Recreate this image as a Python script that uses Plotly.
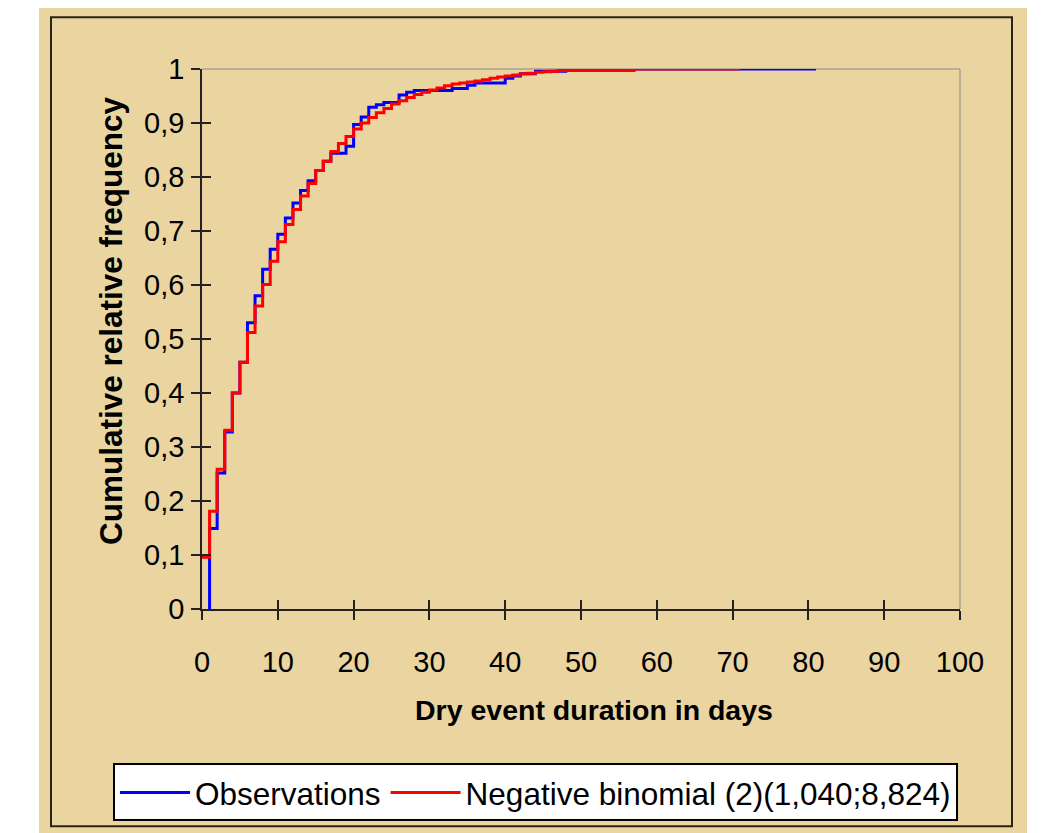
import plotly.graph_objects as go

# Observations: empirical cumulative relative frequency (change points, step "hv")
obs_days = [1, 1, 2, 3, 4, 5, 6, 7, 8, 9, 10, 11, 12, 13, 14, 15, 16, 17, 19, 20,
            21, 22, 23, 24, 26, 27, 28, 33, 35, 36, 40, 41, 42, 44, 48, 81]
obs_cdf = [0.0, 0.149, 0.252, 0.328, 0.400, 0.457, 0.530, 0.580, 0.629, 0.666,
           0.694, 0.724, 0.752, 0.775, 0.793, 0.812, 0.829, 0.844, 0.857, 0.897,
           0.911, 0.929, 0.934, 0.938, 0.952, 0.957, 0.960, 0.964, 0.970, 0.974,
           0.983, 0.987, 0.991, 0.996, 1.0, 1.0]

# Negative binomial (2)(1,040;8,824) fitted cumulative distribution
nb_days = [0, 1, 2, 3, 4, 5, 6, 7, 8, 9, 10, 11, 12, 13, 14, 15, 16, 17, 18, 19,
           20, 21, 22, 23, 24, 25, 26, 27, 28, 29, 30, 31, 32, 33, 34, 35, 36, 37,
           38, 39, 40, 41, 42, 43, 44, 45, 46, 47, 57, 71]
nb_cdf = [0.096, 0.181, 0.259, 0.331, 0.400, 0.457, 0.512, 0.561, 0.601, 0.644,
          0.680, 0.712, 0.740, 0.765, 0.788, 0.812, 0.829, 0.847, 0.862, 0.875,
          0.889, 0.900, 0.910, 0.919, 0.927, 0.935, 0.941, 0.947, 0.953, 0.957,
          0.961, 0.965, 0.969, 0.972, 0.974, 0.976, 0.978, 0.980, 0.983, 0.985,
          0.987, 0.989, 0.991, 0.992, 0.994, 0.995, 0.996, 0.997, 1.0, 1.0]

x_ticks = [0, 10, 20, 30, 40, 50, 60, 70, 80, 90, 100]
y_ticks = [0, 0.1, 0.2, 0.3, 0.4, 0.5, 0.6, 0.7, 0.8, 0.9, 1]
x_title = "Dry event duration in days"
y_title = "Cumulative relative frequency"

FONT = "Liberation Sans, Arial, sans-serif"
TAN = "rgb(234,212,160)"

fig = go.Figure()
fig.add_trace(go.Scatter(x=obs_days, y=obs_cdf, mode="lines", name="Observations",
                         line=dict(color="#0000FF", width=3, shape="hv")))
fig.add_trace(go.Scatter(x=nb_days, y=nb_cdf, mode="lines",
                         name="Negative binomial (2)(1,040;8,824)",
                         line=dict(color="#FF0000", width=3, shape="hv")))
# empty trace to carry the inner-tick overlay axes
fig.add_trace(go.Scatter(x=[], y=[], xaxis="x2", yaxis="y2", showlegend=False,
                         hoverinfo="skip"))

# page has an 8px body margin; figure pixel coords = page coords - 8
OFF = 8
W, H = 1064 - OFF, 833 - OFF
L, R, T, B = 202 - OFF, 104, 69 - OFF, 222
pw, ph = W - L - R, H - T - B  # 758 x 542


def px(x):  # page pixel -> paper x
    return (x - OFF - L) / pw


def py(y):  # page pixel -> paper y
    return (H - B - (y - OFF)) / ph


fig.update_layout(
    width=W, height=H, autosize=False,
    margin=dict(l=L, r=R, t=T, b=B, pad=0),
    paper_bgcolor="white", plot_bgcolor="rgba(0,0,0,0)",
    separators=", ",
    font=dict(family=FONT, color="black", size=29),
    showlegend=True,
    xaxis=dict(range=[0, 100], tickvals=x_ticks, showgrid=False, zeroline=False,
               showline=True, linecolor="#222", linewidth=1.5,
               ticks="outside", ticklen=9, tickwidth=1.5, tickcolor="#222",
               tickfont=dict(size=29), ticklabelstandoff=17),
    yaxis=dict(range=[0, 1], tickvals=y_ticks, showgrid=False, zeroline=False,
               showline=True, linecolor="#222", linewidth=1.5,
               ticks="outside", ticklen=9, tickwidth=1.5, tickcolor="#222",
               tickfont=dict(size=29), ticklabelstandoff=1),
    xaxis2=dict(range=[0, 100], tickvals=x_ticks, overlaying="x", anchor="y",
                side="bottom", showgrid=False, zeroline=False, showline=False,
                ticks="inside", ticklen=9, tickwidth=1.5, tickcolor="#222",
                showticklabels=False),
    yaxis2=dict(range=[0, 1], tickvals=y_ticks, overlaying="y", anchor="x",
                side="left", showgrid=False, zeroline=False, showline=False,
                ticks="inside", ticklen=9, tickwidth=1.5, tickcolor="#222",
                showticklabels=False),
    legend=dict(orientation="h", x=px(113), xanchor="left",
                y=py(766), yanchor="top",
                bgcolor="white", bordercolor="black", borderwidth=2,
                font=dict(size=31.5, color="black"), itemwidth=70,
                tracegroupgap=0),
)

fig.add_annotation(text="<b>" + x_title + "</b>", xref="paper", yref="paper",
                   x=px(594), y=py(712), xanchor="center", yanchor="middle",
                   showarrow=False, font=dict(size=28.5))
fig.add_annotation(text="<b>" + y_title + "</b>", xref="paper", yref="paper",
                   x=px(111), y=py(322), xanchor="center", yanchor="middle",
                   textangle=-90, showarrow=False, font=dict(size=31.5))

fig.add_shape(type="rect", xref="paper", yref="paper", layer="below",
              x0=px(39), x1=px(1027), y0=py(840), y1=py(4),
              fillcolor=TAN, line=dict(width=0))
fig.add_shape(type="rect", xref="paper", yref="paper", layer="below",
              x0=px(51), x1=px(1012), y0=py(829), y1=py(17),
              fillcolor="rgba(0,0,0,0)", line=dict(color="#2a2418", width=2))
fig.add_shape(type="line", xref="paper", yref="paper", layer="below",
              x0=0, x1=1, y0=1, y1=1, line=dict(color="#8a8a8a", width=1))
fig.add_shape(type="line", xref="paper", yref="paper", layer="below",
              x0=1, x1=1, y0=0, y1=1, line=dict(color="#8a8a8a", width=1))

fig.write_html("out.html")
